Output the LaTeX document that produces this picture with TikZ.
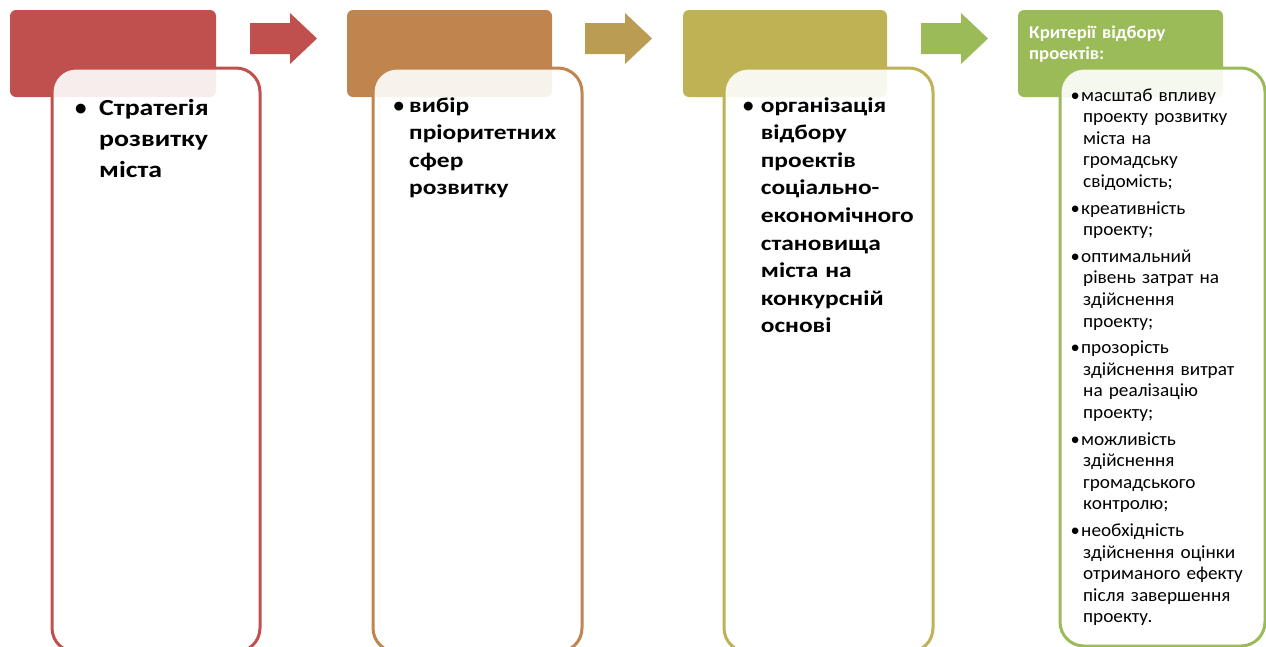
\documentclass[tikz,border=0pt]{standalone}
\usepackage{fontspec}
\setmainfont{Carlito}
\newfontfamily\plainface{Carlito}
\newfontfamily\wideface{Carlito}[FakeStretch=1.21]
\newfontfamily\listface{Carlito}[FakeStretch=1.04, WordSpace=0.85]
\definecolor{stepred}{HTML}{C0504D}
\definecolor{stepbrown}{HTML}{C0844F}
\definecolor{stepolive}{HTML}{BFB254}
\definecolor{stepgreen}{HTML}{9BBB59}
\definecolor{arrowtan}{HTML}{BA9C52}
\newcommand{\bulbox}[1]{\makebox[#1][l]{\plainface\textbullet}}
\newcommand{\indbox}[1]{\hspace*{#1}}
\tikzset{
  headbox/.style={rounded corners=6pt},
  cardbox/.style={line width=3pt, fill=white, fill opacity=0.9, rounded corners=24pt},
  bigtext/.style={anchor=base west, inner sep=0pt, align=left, text width=#1},
}
\begin{document}
\begin{tikzpicture}[x=1pt,y=-1pt]
\useasboundingbox (0,0) rectangle (1266,646);
\clip (0,0) rectangle (1266,646);
% header boxes
\fill[stepred, headbox] (10,10) rectangle (216,97);
\fill[stepbrown, headbox] (347,10) rectangle (552,97);
\fill[stepolive, headbox] (683,10) rectangle (887,97);
\fill[stepgreen, headbox] (1018,10) rectangle (1223,97);
% arrows
\fill[stepred] (250,23) -- (290,23) -- (290,13) -- (317,38.5) -- (290,64) -- (290,54) -- (250,54) -- cycle;
\fill[arrowtan] (585,23) -- (625,23) -- (625,13) -- (652,38.5) -- (625,64) -- (625,54) -- (585,54) -- cycle;
\fill[stepgreen] (921,23) -- (961,23) -- (961,13) -- (988,38.5) -- (961,64) -- (961,54) -- (921,54) -- cycle;
% cards
\draw[cardbox, draw=stepred] (52,68) rectangle (260,652);
\draw[cardbox, draw=stepbrown] (373,68) rectangle (582,652);
\draw[cardbox, draw=stepolive] (724,68) rectangle (933,652);
\draw[cardbox, draw=stepgreen] (1060,68) rectangle (1265,646);
% texts
\node[bigtext=180pt, font=\wideface\bfseries\fontsize{23}{31}\selectfont] (strategy) at (75,115)
  {\bulbox{24pt}Стратегія\\\indbox{24pt}розвитку\\\indbox{24pt}міста};
\node[bigtext=190pt, font=\wideface\bfseries\fontsize{21}{27.5}\selectfont] (spheres) at (393.5,112)
  {\bulbox{15.5pt}вибір\\\indbox{15.5pt}пріоритетних\\\indbox{15.5pt}сфер\\\indbox{15.5pt}розвитку};
\node[bigtext=200pt, font=\wideface\bfseries\fontsize{21}{27.6}\selectfont] (selection) at (743,112)
  {\bulbox{17.7pt}організація\\\indbox{17.7pt}відбору\\\indbox{17.7pt}проектів\\\indbox{17.7pt}соціально-\\
   \indbox{17.7pt}економічного\\\indbox{17.7pt}становища\\\indbox{17.7pt}міста на\\\indbox{17.7pt}конкурсній\\
   \indbox{17.7pt}основі};
\node[bigtext=200pt, text=white, font=\listface\bfseries\fontsize{18}{21}\selectfont] (criteria) at (1029,38)
  {Критерії відбору\\проектів:};
\node[bigtext=200pt, font=\listface\fontsize{18.5}{21.6}\selectfont] (criterialist) at (1070.5,101)
  {\bulbox{10.5pt}масштаб впливу\\\indbox{12.5pt}проекту розвитку\\\indbox{12.5pt}міста на\\\indbox{12.5pt}громадську\\\indbox{12.5pt}свідомість;\\[5pt]
   \bulbox{10.5pt}креативність\\\indbox{12.5pt}проекту;\\[5pt]
   \bulbox{10.5pt}оптимальний\\\indbox{12.5pt}рівень затрат на\\\indbox{12.5pt}здійснення\\\indbox{12.5pt}проекту;\\[5pt]
   \bulbox{10.5pt}прозорість\\\indbox{12.5pt}здійснення витрат\\\indbox{12.5pt}на реалізацію\\\indbox{12.5pt}проекту;\\[5pt]
   \bulbox{10.5pt}можливість\\\indbox{12.5pt}здійснення\\\indbox{12.5pt}громадського\\\indbox{12.5pt}контролю;\\[5pt]
   \bulbox{10.5pt}необхідність\\\indbox{12.5pt}здійснення оцінки\\\indbox{12.5pt}отриманого ефекту\\\indbox{12.5pt}після завершення\\\indbox{12.5pt}проекту.};
\end{tikzpicture}
\end{document}
